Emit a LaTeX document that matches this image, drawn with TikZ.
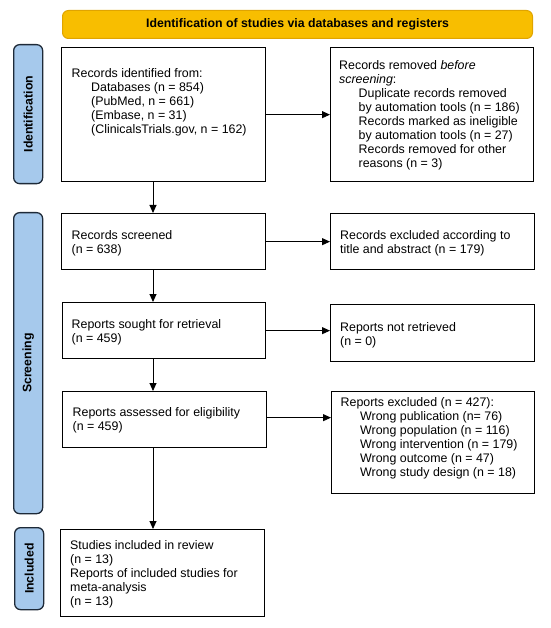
\documentclass[tikz,border=0pt]{standalone}
\usepackage{fontspec}
\setmainfont{Liberation Sans}
\usetikzlibrary{arrows.meta}
\definecolor{titlefill}{HTML}{F8BE00}
\definecolor{titleedge}{HTML}{E0A400}
\definecolor{sidefill}{HTML}{A6C9EC}
\definecolor{sideedge}{HTML}{1E2A38}
\newcommand\indnt{\hspace*{19.5pt}}
\tikzset{
  box/.style={draw=black, line width=1.3pt, fill=white, anchor=north west, inner sep=0pt},
  txt/.style={anchor=north west, align=left, inner sep=0pt, font=\fontsize{12.4}{14}\selectfont},
  sidebox/.style={draw=sideedge, fill=sidefill, line width=1.3pt, rounded corners=6pt, anchor=north west, inner sep=0pt, minimum width=29pt},
  sidelbl/.style={rotate=90, font=\bfseries\fontsize{12.3}{14}\selectfont},
  arr/.style={line width=0.9pt, -{Triangle[length=8pt,width=7pt]}}
}
\begin{document}
\begin{tikzpicture}[x=1pt,y=-1pt]
\useasboundingbox (0,0) rectangle (550,628);
% title
\node[draw=titleedge, fill=titlefill, line width=1pt, rounded corners=6pt, anchor=north west,
      minimum width=470pt, minimum height=28pt, inner sep=0pt,
      font=\bfseries\fontsize{12.3}{14}\selectfont] (title) at (62,10)
      {Identification of studies via databases and registers};
% side boxes
\node[sidebox, minimum height=139pt] (sideid) at (13,44) {};
\node[sidelbl] (sideidl) at (sideid.center) {Identification};
\node[sidebox, minimum height=301pt] (sidesc) at (13,212) {};
\node[sidelbl] (sidescl) at (sidesc.center) {Screening};
\node[sidebox, minimum height=82pt] (sidein) at (14,527) {};
\node[sidelbl] (sideinl) at (sidein.center) {Included};
% boxes
\node[box, minimum width=204pt, minimum height=134pt] (b1) at (61,47) {};
\node[box, minimum width=203pt, minimum height=134pt] (b2) at (330,47) {};
\node[box, minimum width=204pt, minimum height=56pt] (b3) at (61,213) {};
\node[box, minimum width=204pt, minimum height=56pt] (b4) at (330,213) {};
\node[box, minimum width=203pt, minimum height=56pt] (b5) at (62,302) {};
\node[box, minimum width=204pt, minimum height=57pt] (b6) at (330,304) {};
\node[box, minimum width=204pt, minimum height=56pt] (b7) at (62,391) {};
\node[box, minimum width=203pt, minimum height=102pt] (b8) at (331,391) {};
\node[box, minimum width=204pt, minimum height=87pt] (b9) at (60,529) {};
% texts
\node[txt] (t1) at (71.5,68) {Records identified from:\\
\indnt Databases (n = 854)\\
\indnt (PubMed, n = 661)\\
\indnt (Embase, n = 31)\\
\indnt (ClinicalsTrials.gov, n = 162)};
\node[txt] (t2) at (339,60) {Records removed \textit{before}\\
\textit{screening}:\\
\indnt Duplicate records removed\\
\indnt by automation tools (n = 186)\\
\indnt Records marked as ineligible\\
\indnt by automation tools (n = 27)\\
\indnt Records removed for other\\
\indnt reasons (n = 3)};
\node[txt] (t3) at (71.5,230) {Records screened\\(n = 638)};
\node[txt] (t4) at (340,230) {Records excluded according to\\title and abstract (n = 179)};
\node[txt] (t5) at (71.5,319) {Reports sought for retrieval\\(n = 459)};
\node[txt] (t6) at (340,322) {Reports not retrieved\\(n = 0)};
\node[txt] (t7) at (72.5,407) {Reports assessed for eligibility\\(n = 459)};
\node[txt] (t8) at (340.5,397) {Reports excluded (n = 427):\\
\indnt Wrong publication (n= 76)\\
\indnt Wrong population (n = 116)\\
\indnt Wrong intervention (n = 179)\\
\indnt Wrong outcome (n = 47)\\
\indnt Wrong study design (n = 18)};
\node[txt] (t9) at (70,540) {Studies included in review\\(n = 13)\\Reports of included studies for\\meta-analysis\\(n = 13)};
% connectors
\coordinate (colx) at (153,0);
\draw[arr] (b1.south -| colx) -- (b3.north -| colx);
\draw[arr] (b3.south -| colx) -- (b5.north -| colx);
\draw[arr] (b5.south -| colx) -- (b7.north -| colx);
\draw[arr] (b7.south -| colx) -- (b9.north -| colx);
\draw[arr] (b1.east) -- (b1.east -| b2.west);
\draw[arr] (b3.east) -- (b3.east -| b4.west);
\draw[arr] (b5.east) -- (b5.east -| b6.west);
\draw[arr] ([yshift=2pt]b7.east) -- ([yshift=2pt]b7.east -| b8.west);
\end{tikzpicture}
\end{document}
